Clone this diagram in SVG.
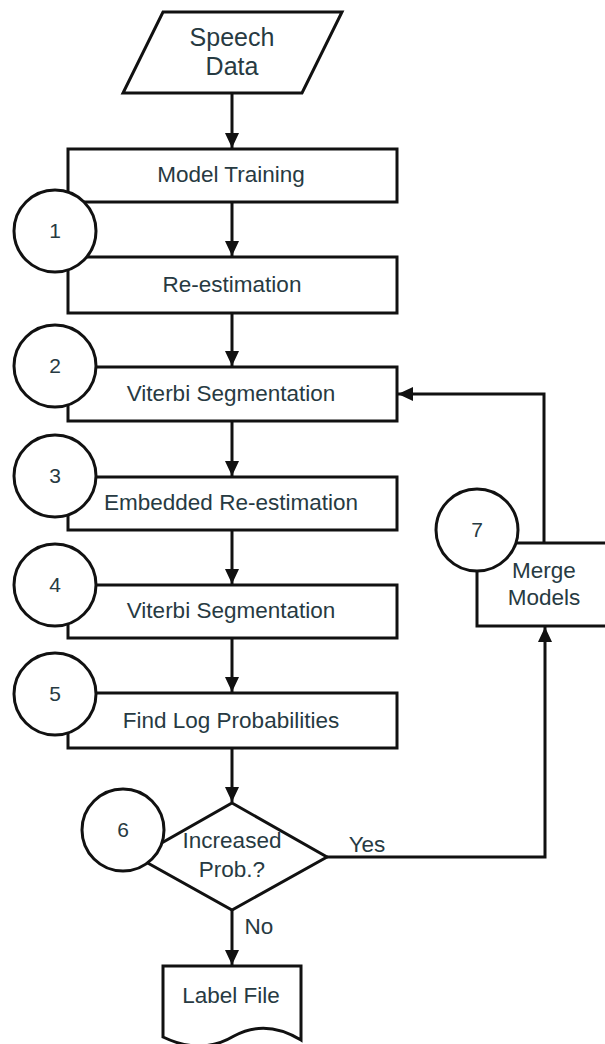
<svg xmlns="http://www.w3.org/2000/svg" width="605" height="1044" viewBox="0 0 605 1044">
  <defs>
    <marker id="arrow" markerWidth="16" markerHeight="16" refX="15" refY="8" orient="auto" markerUnits="userSpaceOnUse">
      <path d="M0,1 L15,8 L0,15 Z" fill="#111"/>
    </marker>
    <style>
      .shape { fill: #fff; stroke: #111; stroke-width: 3; }
      .step { fill: #fff; stroke: #111; stroke-width: 3; }
      .wire { fill: none; stroke: #111; stroke-width: 3; }
      .label { font-family: "Liberation Sans", Arial, sans-serif; font-size: 22.5px; fill: #273a42; text-anchor: middle; }
      .num { font-family: "Liberation Sans", Arial, sans-serif; font-size: 21px; fill: #273a42; text-anchor: middle; }
    </style>
  </defs>
  <rect width="605" height="1044" fill="#fff"/>

  <!-- connectors -->
  <g id="connectors">
    <path class="wire" d="M232,93 V148" marker-end="url(#arrow)"/>
    <path class="wire" d="M232,202 V256" marker-end="url(#arrow)"/>
    <path class="wire" d="M232,313 V366" marker-end="url(#arrow)"/>
    <path class="wire" d="M232,421 V476" marker-end="url(#arrow)"/>
    <path class="wire" d="M232,530 V584" marker-end="url(#arrow)"/>
    <path class="wire" d="M232,638 V692" marker-end="url(#arrow)"/>
    <path class="wire" d="M232,748 V802" marker-end="url(#arrow)"/>
    <path class="wire" d="M232,910 V965" marker-end="url(#arrow)"/>
    <path class="wire" d="M327,857 H545 V627" marker-end="url(#arrow)"/>
    <path class="wire" d="M544,543 V394 H398" marker-end="url(#arrow)"/>
    <text class="label" x="367" y="852">Yes</text>
    <text class="label" x="259" y="934">No</text>
  </g>

  <g id="speech-data">
    <path class="shape" d="M163,12 H342 L302,93 H123 Z"/>
    <text class="label" x="232" y="46" style="font-size:25px">Speech</text>
    <text class="label" x="232" y="75" style="font-size:25px">Data</text>
  </g>

  <g id="model-training">
    <rect class="shape" x="68" y="149" width="329" height="53"/>
    <text class="label" x="231" y="182">Model Training</text>
  </g>

  <g id="re-estimation">
    <rect class="shape" x="68" y="257" width="329" height="56"/>
    <text class="label" x="232" y="292">Re-estimation</text>
  </g>

  <g id="viterbi-1">
    <rect class="shape" x="68" y="367" width="329" height="54"/>
    <text class="label" x="231" y="401">Viterbi Segmentation</text>
  </g>

  <g id="embedded-re-estimation">
    <rect class="shape" x="68" y="477" width="329" height="53"/>
    <text class="label" x="231" y="510">Embedded Re-estimation</text>
  </g>

  <g id="viterbi-2">
    <rect class="shape" x="68" y="585" width="329" height="53"/>
    <text class="label" x="231" y="618">Viterbi Segmentation</text>
  </g>

  <g id="find-log-probabilities">
    <rect class="shape" x="68" y="693" width="329" height="55"/>
    <text class="label" x="231" y="728">Find Log Probabilities</text>
  </g>

  <g id="increased-prob">
    <path class="shape" d="M232,803 L327,857 L232,910 L137,857 Z"/>
    <text class="label" x="232" y="848">Increased</text>
    <text class="label" x="232" y="877">Prob.?</text>
  </g>

  <g id="merge-models">
    <rect class="shape" x="477" y="543" width="140" height="83"/>
    <text class="label" x="544" y="578">Merge</text>
    <text class="label" x="544" y="605">Models</text>
  </g>

  <g id="label-file">
    <path class="shape" d="M163,966 H301 V1040 C278,1026 256,1024 234,1036 C214,1048 190,1050 163,1037 Z"/>
    <text class="label" x="231" y="1003">Label File</text>
  </g>

  <!-- step number markers -->
  <g id="step-1"><circle class="step" cx="55" cy="231" r="41"/><text class="num" x="55" y="238">1</text></g>
  <g id="step-2"><circle class="step" cx="55" cy="366" r="41"/><text class="num" x="55" y="373">2</text></g>
  <g id="step-3"><circle class="step" cx="55" cy="476" r="41"/><text class="num" x="55" y="483">3</text></g>
  <g id="step-4"><circle class="step" cx="55" cy="585" r="41"/><text class="num" x="55" y="592">4</text></g>
  <g id="step-5"><circle class="step" cx="55" cy="694" r="41"/><text class="num" x="55" y="701">5</text></g>
  <g id="step-6"><circle class="step" cx="123" cy="830" r="41"/><text class="num" x="123" y="837">6</text></g>
  <g id="step-7"><circle class="step" cx="477" cy="530" r="41"/><text class="num" x="477" y="537">7</text></g>
</svg>
